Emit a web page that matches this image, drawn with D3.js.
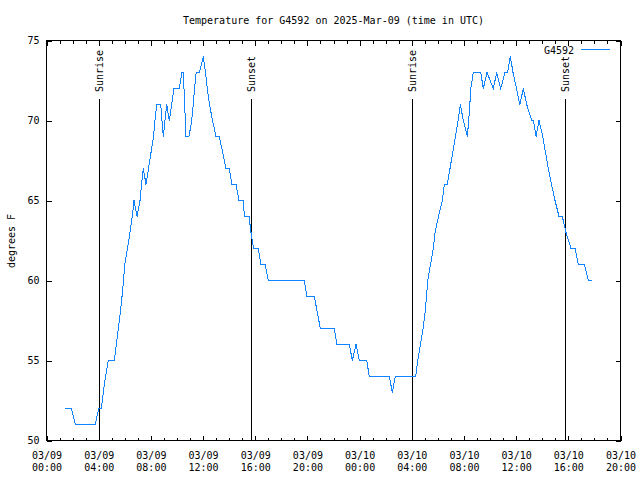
<!DOCTYPE html>
<html>
<head>
<meta charset="utf-8">
<script src="https://cdn.jsdelivr.net/npm/d3@7"></script>
<style>
  html, body { margin: 0; padding: 0; background: #fff; }
  svg { display: block; }
  text { font-family: "DejaVu Sans Mono", "Liberation Mono", monospace; font-size: 10px; fill: #000; }
</style>
</head>
<body>
<svg id="chart" width="640" height="480"></svg>
<script>
// ---- data (hours since 2025-03-09 00:00 UTC, temperature in °F) ----
const hours = [
  1.418, 1.901, 2.208, 3.741, 4.002, 4.201, 4.354, 4.523, 4.737, 5.197,
  5.351, 5.504, 5.657, 5.788, 5.903, 5.995, 6.209, 6.401, 6.577, 6.708,
  6.938, 7.168, 7.283, 7.421, 7.628, 7.819, 8.011, 8.202, 8.317, 8.448,
  8.754, 8.954, 9.214, 9.414, 9.774, 10.180, 10.387, 10.487, 10.694, 10.924,
  11.131, 11.246, 11.353, 11.476, 11.713, 12.020, 12.189, 12.327, 12.495, 12.725,
  12.994, 13.247, 13.507, 13.760, 14.013, 14.220, 14.527, 14.757, 15.063, 15.178,
  15.523, 15.677, 15.868, 16.236, 16.443, 16.750, 17.003, 19.762, 19.969, 20.529,
  20.759, 20.989, 22.062, 22.269, 23.212, 23.442, 23.726, 23.979, 24.546, 24.745,
  26.278, 26.508, 26.738, 28.302, 28.455, 28.670, 28.862, 29.015, 29.130, 29.222,
  29.437, 29.651, 29.782, 30.050, 30.341, 30.494, 30.724, 30.931, 31.138, 31.353,
  31.545, 31.721, 31.951, 32.258, 32.365, 32.450, 32.526, 32.718, 33.285, 33.484,
  33.768, 34.251, 34.511, 34.818, 35.148, 35.339, 35.554, 35.761, 36.029, 36.282,
  36.551, 36.811, 37.194, 37.332, 37.524, 37.754, 38.038, 38.252, 38.467, 38.712,
  38.980, 39.287, 39.540, 39.824, 40.207, 40.514, 40.767, 41.226, 41.533, 41.794
];
const temps = [
  52, 52, 51, 51, 52, 52, 53, 54, 55, 55,
  56, 57, 58, 59, 60, 61, 62, 63, 64, 65,
  64, 65, 66, 67, 66, 67, 68, 69, 70, 71,
  71, 69, 71, 70, 72, 72, 73, 73, 69, 69,
  70, 71, 72, 73, 73, 74, 73, 72, 71, 70,
  69, 69, 68, 67, 67, 66, 66, 65, 65, 64,
  64, 63, 62, 62, 61, 61, 60, 60, 59, 59,
  58, 57, 57, 56, 56, 55, 56, 55, 55, 54,
  54, 53, 54, 54, 55, 56, 57, 58, 59, 60,
  61, 62, 63, 64, 65, 66, 66, 67, 68, 69,
  70, 71, 70, 69, 70, 71, 72, 73, 73, 72,
  73, 72, 73, 72, 73, 73, 74, 73, 72, 71,
  72, 71, 70, 70, 69, 70, 69, 68, 67, 66,
  65, 64, 64, 63, 62, 62, 61, 61, 60, 60
];
const seriesName = "G4592";
const eventHours = [4.05, 15.70, 28.04, 39.78];
const eventLabels = ["Sunrise", "Sunset", "Sunrise", "Sunset"];
const yTicks = [50, 55, 60, 65, 70, 75];
const titleText = "Temperature for G4592 on 2025-Mar-09 (time in UTC)";
const yTitle = "degrees F";

// ---- setup ----
const base = Date.UTC(2025, 2, 9);
const toDate = h => new Date(base + h * 3600000);
const data = hours.map((h, i) => ({ t: toDate(h), v: temps[i] }));

const W = 640, H = 480;
const L = 46.5, R = 620.5, T = 40.5, B = 440.5;
const svg = d3.select("#chart");

const x = d3.scaleUtc().domain([toDate(0), toDate(44)]).range([L, R]);
const y = d3.scaleLinear().domain([50, 75]).range([B, T]);

const majorTicks = d3.utcHour.every(4).range(toDate(0), toDate(44.01));
const minorTicks = d3.utcHour.every(1).range(toDate(0), toDate(44.01)).filter(d => d.getUTCHours() % 4 !== 0);

const g = svg.append("g").attr("shape-rendering", "crispEdges");

// bottom axis (major + labels)
const bottom = g.append("g").attr("transform", `translate(0,${B})`)
  .call(d3.axisBottom(x).tickValues(majorTicks).tickSize(-5).tickFormat(""));
bottom.selectAll(".tick").each(function(d) {
  const t = d3.select(this).append("text").attr("text-anchor", "middle");
  t.append("tspan").attr("x", 0).attr("y", 18.5).text(d3.utcFormat("%m/%d")(d));
  t.append("tspan").attr("x", 0).attr("y", 30.5).text(d3.utcFormat("%H:%M")(d));
});
g.append("g").attr("transform", `translate(0,${B})`)
  .call(d3.axisBottom(x).tickValues(minorTicks).tickSize(-3).tickFormat(""));

// top axis mirrored
g.append("g").attr("transform", `translate(0,${T})`)
  .call(d3.axisTop(x).tickValues(majorTicks).tickSize(-5).tickFormat(""));
g.append("g").attr("transform", `translate(0,${T})`)
  .call(d3.axisTop(x).tickValues(minorTicks).tickSize(-3).tickFormat(""));

// left axis
g.append("g").attr("transform", `translate(${L},0)`)
  .call(d3.axisLeft(y).tickValues(yTicks).tickSize(-5).tickPadding(7).tickFormat(d3.format("d")))
  .selectAll("text").attr("dy", "0.34em");
// right axis mirrored
g.append("g").attr("transform", `translate(${R},0)`)
  .call(d3.axisRight(y).tickValues(yTicks).tickSize(-5).tickFormat(""));

g.selectAll(".domain").remove();
g.selectAll(".tick line").attr("stroke", "#000");
g.selectAll(".tick text").attr("fill", "#000")
  .style("font-family", '"DejaVu Sans Mono", monospace').style("font-size", "10px");

// border
g.append("rect").attr("x", L).attr("y", T).attr("width", R - L).attr("height", B - T)
  .attr("fill", "none").attr("stroke", "#000");

// sunrise / sunset markers
eventHours.forEach((h, i) => {
  const ex = Math.round(x(toDate(h))) + 0.5;
  g.append("line").attr("x1", ex).attr("x2", ex).attr("y1", B).attr("y2", 99)
    .attr("stroke", "#000");
  svg.append("text")
    .attr("transform", `translate(${ex},92) rotate(-90)`)
    .attr("text-anchor", "start").attr("dy", "0.35em")
    .text(eventLabels[i]);
});

// data line
const line = d3.line().x(d => x(d.t)).y(d => y(d.v));
svg.append("path").datum(data)
  .attr("d", line)
  .attr("fill", "none")
  .attr("stroke", "#1283ff")
  .attr("stroke-width", 1)
  .attr("shape-rendering", "crispEdges");

// title
svg.append("text").attr("x", (L + R) / 2).attr("y", 23.5)
  .attr("text-anchor", "middle").text(titleText);

// y title
svg.append("text").attr("transform", `translate(11,241) rotate(-90)`)
  .attr("text-anchor", "middle").attr("dy", "0.35em").text(yTitle);

// legend
svg.append("text").attr("x", 574).attr("y", 53.5).attr("text-anchor", "end").text(seriesName);
svg.append("line").attr("x1", 581).attr("x2", 610).attr("y1", 49.5).attr("y2", 49.5)
  .attr("stroke", "#1283ff").attr("shape-rendering", "crispEdges");
</script>
</body>
</html>
